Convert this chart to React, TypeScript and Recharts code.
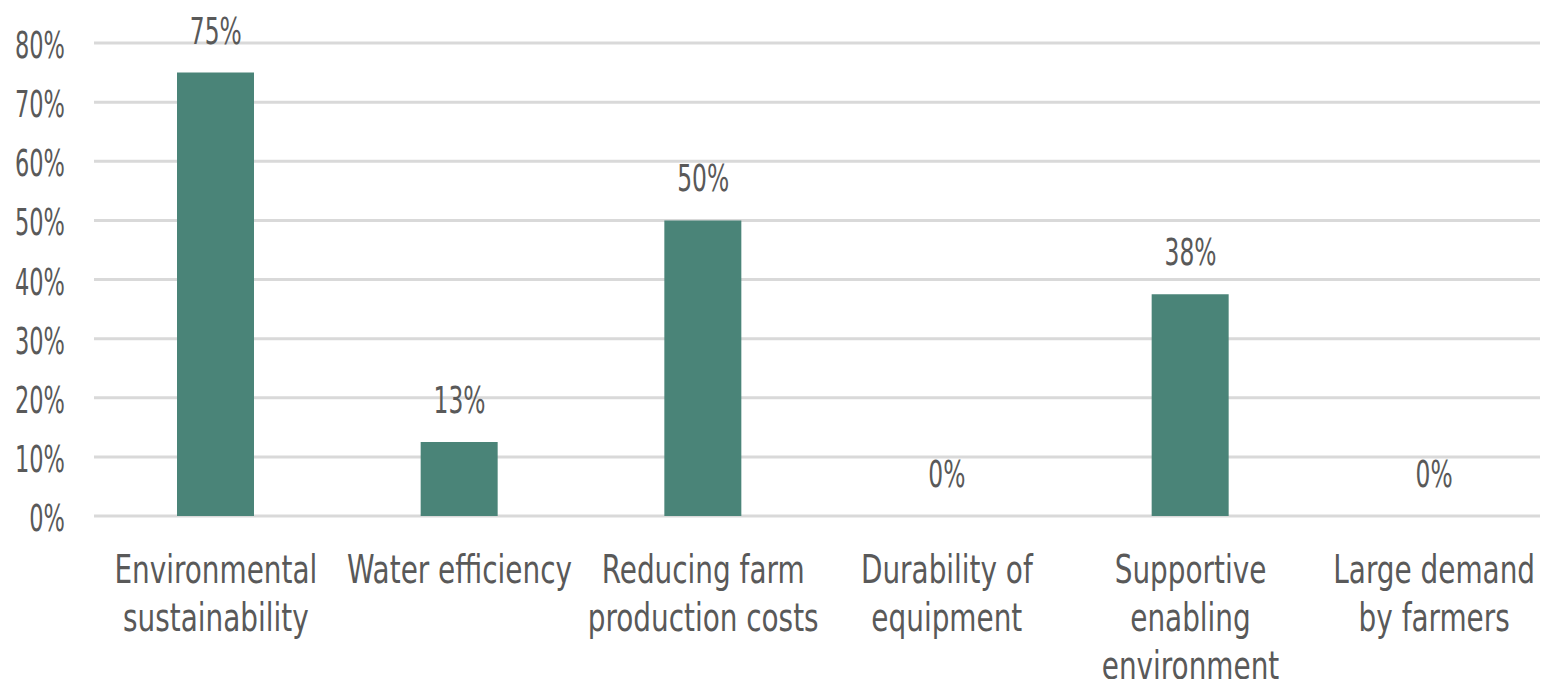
import React from 'react';
import { ComposedChart, Bar, Line, XAxis, YAxis, CartesianGrid, LabelList } from 'recharts';

// Share of respondents citing each factor (%)
const categories = [
  'Environmental sustainability',
  'Water efficiency',
  'Reducing farm production costs',
  'Durability of equipment',
  'Supportive enabling environment',
  'Large demand by farmers',
];
const categoryLines = [
  ['Environmental', 'sustainability'],
  ['Water efficiency'],
  ['Reducing farm', 'production costs'],
  ['Durability of', 'equipment'],
  ['Supportive', 'enabling', 'environment'],
  ['Large demand', 'by farmers'],
];
const shares = [75, 12.5, 50, 0, 37.5, 0];
const yTicks = [0, 10, 20, 30, 40, 50, 60, 70, 80];

const TEXT = '#595959';
const GRID = '#d9d9d9';
const BAR = '#4a8478';
const FONT = "'DejaVu Sans Condensed', 'DejaVu Sans', sans-serif";

const chartData = categories.map((name, i) => ({ name, share: shares[i] }));

// text drawn a little taller than the font's own proportions
const TallText = ({ x, y, anchor, size, sy, children }: any) => (
  <text
    transform={`translate(${x},${y}) scale(1,${sy})`}
    textAnchor={anchor}
    fontSize={size}
    fontFamily={FONT}
    fontStretch="condensed"
    fill={TEXT}
  >
    {children}
  </text>
);

const YTick = ({ x, y, payload }: any) => (
  <TallText x={x} y={y + 15} anchor="end" size={25} sy={1.5}>
    {payload.value}%
  </TallText>
);

const XTick = ({ x, y, index }: any) => {
  const lines = categoryLines[index] || [];
  return (
    <g>
      {lines.map((line, i) => (
        <TallText key={i} x={x} y={y + 67 + i * 48} anchor="middle" size={31} sy={1.28}>
          {line}
        </TallText>
      ))}
    </g>
  );
};

// value labels sit above the top of each bar, zero bars included
const ValueLabel = ({ x, y, value }: any) => (
  <TallText x={x} y={y - 29} anchor="middle" size={26} sy={1.4}>
    {Math.round(value)}%
  </TallText>
);

export default function App() {
  return (
    <div style={{ margin: -8, width: 1548, height: 687, overflow: 'hidden', background: '#fff' }}>
      <ComposedChart
        width={1556}
        height={687}
        data={chartData}
        margin={{ top: 43, right: 0, bottom: 0, left: 0 }}
      >
        <CartesianGrid vertical={false} stroke={GRID} strokeWidth={3} />
        <XAxis
          dataKey="name"
          height={171}
          interval={0}
          axisLine={false}
          tickLine={false}
          tickSize={0}
          tickMargin={0}
          tick={<XTick />}
        />
        <YAxis
          width={94}
          domain={[0, 80]}
          ticks={yTicks}
          axisLine={false}
          tickLine={false}
          tickSize={0}
          tickMargin={29}
          tick={<YTick />}
        />
        <Bar dataKey="share" fill={BAR} barSize={77} isAnimationActive={false} />
        <Line
          dataKey="share"
          stroke="none"
          dot={false}
          activeDot={false}
          legendType="none"
          isAnimationActive={false}
        >
          <LabelList dataKey="share" content={<ValueLabel />} />
        </Line>
      </ComposedChart>
    </div>
  );
}
